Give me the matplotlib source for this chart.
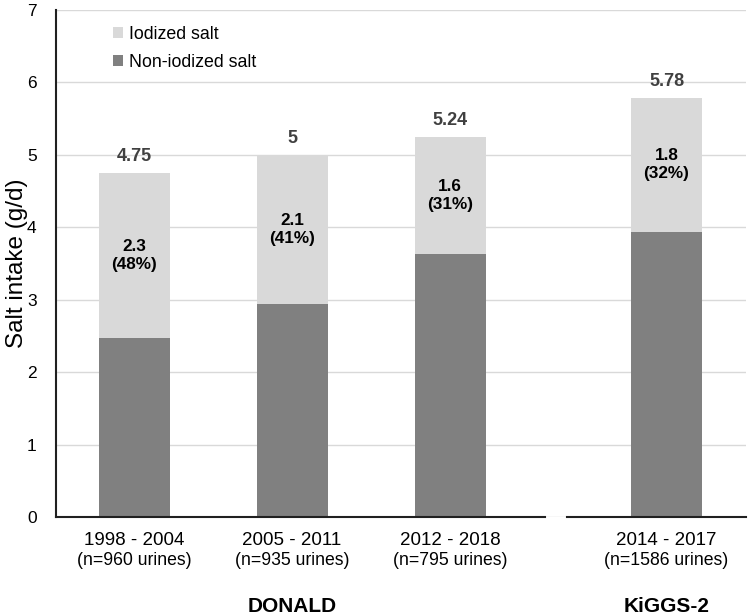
import numpy as np
import matplotlib.pyplot as plt

plt.rcParams['font.family'] = ['Liberation Sans', 'DejaVu Sans']

periods = ['1998 - 2004', '2005 - 2011', '2012 - 2018', '2014 - 2017']
n_urines = ['(n=960 urines)', '(n=935 urines)', '(n=795 urines)', '(n=1586 urines)']
non_iodized = [2.47, 2.94, 3.63, 3.94]
iodized = [2.28, 2.06, 1.61, 1.84]
totals = ['4.75', '5', '5.24', '5.78']
iod_labels = ['2.3\n(48%)', '2.1\n(41%)', '1.6\n(31%)', '1.8\n(32%)']
studies = ['DONALD', 'KiGGS-2']

x = np.array([0, 1, 2, 3.37])
dark = '#808080'
light = '#d9d9d9'

fig = plt.figure(figsize=(7.49, 6.15), dpi=100)
ax = fig.add_axes([0.0748, 0.159, 0.9212, 0.825])

ax.bar(x, non_iodized, width=0.45, color=dark, label='Non-iodized salt', zorder=2)
ax.bar(x, iodized, width=0.45, bottom=non_iodized, color=light, label='Iodized salt', zorder=2)

for xi, lo, up, tot, lab in zip(x, non_iodized, iodized, totals, iod_labels):
    ax.text(xi, lo + up + 0.11, tot, ha='center', va='bottom', fontsize=13,
            fontweight='bold', color='#404040')
    ax.text(xi, lo + up / 2, lab, ha='center', va='center', fontsize=12.3,
            fontweight='bold', color='black', linespacing=1.25)

ax.set_xlim(-0.494, 3.873)
ax.set_ylim(0, 7)
ax.set_yticks(range(8))
ax.yaxis.grid(True, color='#d9d9d9', linewidth=1, zorder=0)
ax.tick_params(axis='y', length=0, labelsize=12.5, pad=14)
ax.set_xticks([])
ax.set_ylabel('Salt intake (g/d)', fontsize=17.5, labelpad=-1)

for s in ['top', 'right', 'bottom']:
    ax.spines[s].set_visible(False)
ax.spines['left'].set_linewidth(1.5)
ax.spines['left'].set_color('#202020')

# broken baseline
ax.plot([-0.494, 2.60], [0, 0], color='#202020', lw=1.5, clip_on=False, zorder=3)
ax.plot([2.74, 3.873], [0, 0], color='#202020', lw=1.5, clip_on=False, zorder=3)

trans = ax.get_xaxis_transform()
for xi, p, n in zip(x, periods, n_urines):
    ax.text(xi, -0.046, p, transform=trans, ha='center', va='center', fontsize=13.5)
    ax.text(xi, -0.085, n, transform=trans, ha='center', va='center', fontsize=12.7)

ax.text(x[1], -0.175, studies[0], transform=trans, ha='center', va='center',
        fontsize=15, fontweight='bold')
ax.text(x[3], -0.175, studies[1], transform=trans, ha='center', va='center',
        fontsize=15, fontweight='bold')

h, l = ax.get_legend_handles_labels()
ax.legend(h[::-1], l[::-1], loc='upper left', bbox_to_anchor=(0.06, 1.0),
          frameon=False, fontsize=12.8, handlelength=0.55, handleheight=0.55,
          handletextpad=0.3, labelspacing=0.6)

fig.savefig('out.png', dpi=100)
